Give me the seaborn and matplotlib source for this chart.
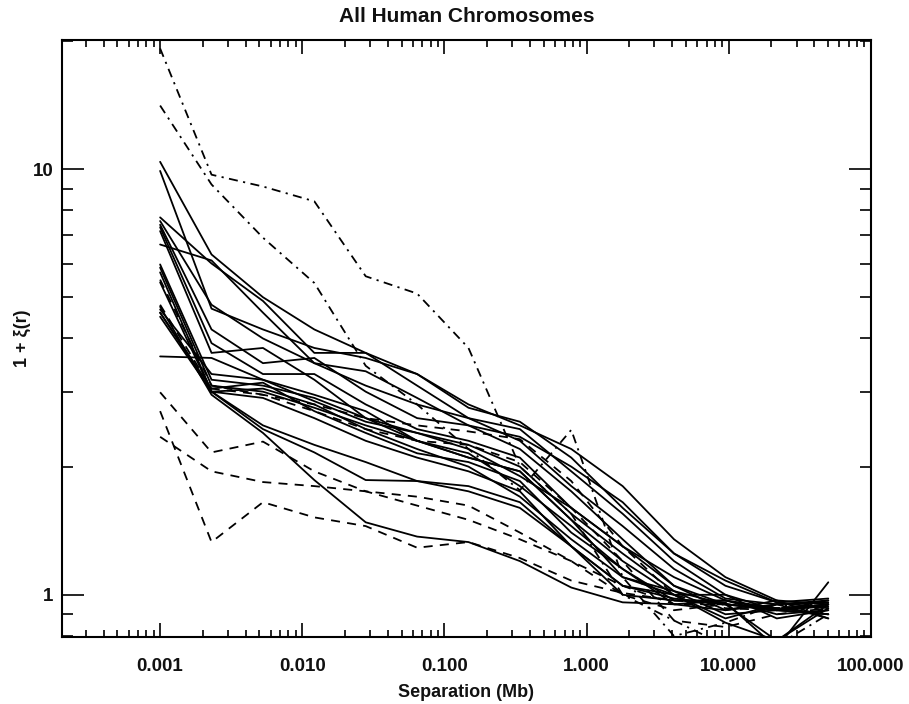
import matplotlib
matplotlib.use("Agg")
import matplotlib.pyplot as plt
import matplotlib.ticker as mticker
import seaborn as sns

# --- data ---
separation = [0.001, 0.0023, 0.00529, 0.01216, 0.02795, 0.06426, 0.1477,
              0.3396, 0.7808, 1.795, 4.127, 9.49, 21.8, 50.2]

solid = [
    [10.4, 6.3, 5.0, 4.2, 3.7, 3.3, 2.8, 2.5, 2.2, 1.8, 1.35, 1.1, 0.97, 0.95],
    [9.9, 4.7, 4.2, 3.8, 3.6, 3.3, 2.75, 2.55, 2.1, 1.6, 1.25, 1.08, 0.96, 0.93],
    [7.7, 6.0, 4.9, 3.7, 3.7, 3.1, 2.6, 2.45, 1.95, 1.55, 1.2, 1.0, 0.92, 0.9],
    [7.55, 4.8, 4.0, 3.5, 3.1, 2.8, 2.6, 2.3, 1.8, 1.45, 1.15, 0.98, 0.95, 0.96],
    [7.4, 4.2, 3.5, 3.6, 3.0, 2.6, 2.5, 2.2, 1.75, 1.35, 1.05, 0.95, 0.92, 0.97],
    [7.3, 3.9, 3.3, 3.3, 2.8, 2.45, 2.3, 2.1, 1.6, 1.3, 1.1, 0.97, 0.93, 0.9],
    [7.15, 3.7, 3.8, 3.2, 2.6, 2.3, 2.1, 1.95, 1.5, 1.2, 1.0, 1.0, 0.88, 0.92],
    [6.65, 6.1, 4.6, 3.5, 3.35, 2.9, 2.5, 2.35, 2.0, 1.65, 1.25, 1.05, 0.96, 0.98],
    [5.97, 3.2, 3.1, 2.9, 2.6, 2.4, 2.25, 2.0, 1.55, 1.25, 1.02, 0.95, 0.78, 0.93],
    [5.87, 3.1, 3.0, 2.75, 2.5, 2.3, 2.15, 1.8, 1.45, 1.15, 0.95, 0.92, 0.97, 0.88],
    [5.72, 3.0, 3.05, 2.8, 2.45, 2.2, 2.0, 1.7, 1.35, 1.1, 1.02, 0.9, 0.92, 0.95],
    [5.42, 3.0, 2.9, 2.6, 2.3, 2.1, 1.95, 1.75, 1.3, 1.0, 0.97, 0.96, 0.75, 1.07],
    [4.68, 3.3, 3.2, 2.85, 2.55, 2.4, 2.2, 1.9, 1.6, 1.3, 1.05, 0.92, 0.95, 0.97],
    [4.6, 3.05, 3.15, 2.7, 2.4, 2.15, 2.05, 1.85, 1.4, 1.15, 0.97, 0.97, 0.9, 0.92],
    [4.5, 3.0, 2.5, 2.25, 2.05, 1.85, 1.75, 1.6, 1.3, 1.05, 0.98, 0.95, 0.92, 0.94],
    [3.63, 3.6, 3.2, 2.95, 2.7, 2.3, 2.1, 1.95, 1.5, 1.1, 1.0, 0.88, 0.95, 0.88],
    [4.75, 2.95, 2.4, 1.86, 1.48, 1.37, 1.33, 1.2, 1.04, 0.96, 0.95, 0.97, 0.92, 0.9],
    [4.6, 3.0, 2.45, 2.16, 1.86, 1.85, 1.8, 1.65, 1.3, 1.05, 1.0, 0.86, 0.78, 0.95],
]

dashed = [
    [2.99, 2.16, 2.29, 1.95, 1.75, 1.62, 1.5, 1.35, 1.2, 1.05, 0.95, 0.95, 0.93, 0.95],
    [2.7, 1.33, 1.65, 1.52, 1.45, 1.29, 1.33, 1.22, 1.08, 1.01, 0.97, 0.95, 0.93, 0.95],
    [2.35, 1.95, 1.84, 1.8, 1.75, 1.7, 1.62, 1.4, 1.2, 1.0, 0.92, 0.95, 0.93, 0.94],
    [4.8, 3.05, 2.95, 2.8, 2.6, 2.5, 2.42, 2.32, 1.85, 1.3, 1.0, 0.93, 0.92, 0.95],
    [5.5, 3.1, 2.95, 2.7, 2.45, 2.3, 2.25, 2.05, 1.6, 1.2, 0.87, 0.84, 0.9, 0.93],
]

dashdot = [
    [19.2, 9.7, 9.1, 8.4, 5.6, 5.1, 3.8, 2.0, 1.55, 1.0, 0.87, 0.76, 0.76, 0.9],
    [14.1, 9.2, 6.9, 5.4, 3.45, 2.8, 2.2, 1.76, 2.44, 1.1, 0.8, 0.86, 0.95, 0.92],
]

xticks = [0.001, 0.01, 0.1, 1, 10, 100]
yticks = [1, 10]

sns.set_style("ticks")
plt.rcParams["font.family"] = ["Liberation Sans", "DejaVu Sans"]
plt.rcParams["font.weight"] = "bold"
plt.rcParams["text.color"] = "#111111"
plt.rcParams["axes.labelcolor"] = "#111111"
plt.rcParams["xtick.labelcolor"] = "#111111"
plt.rcParams["ytick.labelcolor"] = "#111111"

fig = plt.figure(figsize=(9.09, 7.04), dpi=100)
ax = fig.add_axes([0.0682, 0.0952, 0.8898, 0.848])

for vals in solid:
    sns.lineplot(x=separation, y=vals, ax=ax, color="black", lw=1.3)
for vals in dashed:
    sns.lineplot(x=separation, y=vals, ax=ax, color="black", lw=1.3,
                 linestyle=(0, (5, 4)))
for vals in dashdot:
    sns.lineplot(x=separation, y=vals, ax=ax, color="black", lw=1.3,
                 linestyle=(0, (5, 3, 1.2, 3)))

ax.set_xscale("log")
ax.set_yscale("log")
ax.set_xlim(2.04e-4, 100)
ax.set_ylim(0.796, 20.1)

ax.set_xticks(xticks)
ax.xaxis.set_major_formatter(mticker.FuncFormatter(lambda v, p: f"{v:.3f}"))
ax.xaxis.set_minor_locator(mticker.LogLocator(base=10, subs=range(2, 10), numticks=20))
ax.xaxis.set_minor_formatter(mticker.NullFormatter())
ax.set_yticks(yticks)
ax.yaxis.set_major_formatter(mticker.FuncFormatter(lambda v, p: f"{v:g}"))
ax.yaxis.set_minor_locator(mticker.LogLocator(base=10, subs=range(2, 10), numticks=20))
ax.yaxis.set_minor_formatter(mticker.NullFormatter())

ax.tick_params(which="both", direction="in", top=True, right=True, color="black", width=1.2)
ax.tick_params(which="major", axis="x", length=10, labelsize=13.5, pad=15)
ax.tick_params(which="major", axis="y", length=16, labelsize=13.5, pad=6)
ax.tick_params(which="minor", axis="x", length=5)
ax.tick_params(which="minor", axis="y", length=8)
for lab in ax.get_xticklabels() + ax.get_yticklabels():
    lab.set_fontweight("bold")

for sp in ax.spines.values():
    sp.set_linewidth(1.5)
    sp.set_color("black")

ax.set_title("All Human Chromosomes", fontsize=15, fontweight="bold", pad=13)
ax.set_xlabel("Separation (Mb)", fontsize=13, fontweight="bold")
ax.xaxis.set_label_coords(0.5, -0.079)
ax.set_ylabel("1 + ξ(r)", fontsize=13, fontweight="bold")
ax.yaxis.set_label_coords(-0.038, 0.5)

fig.savefig("out.png", dpi=100)
